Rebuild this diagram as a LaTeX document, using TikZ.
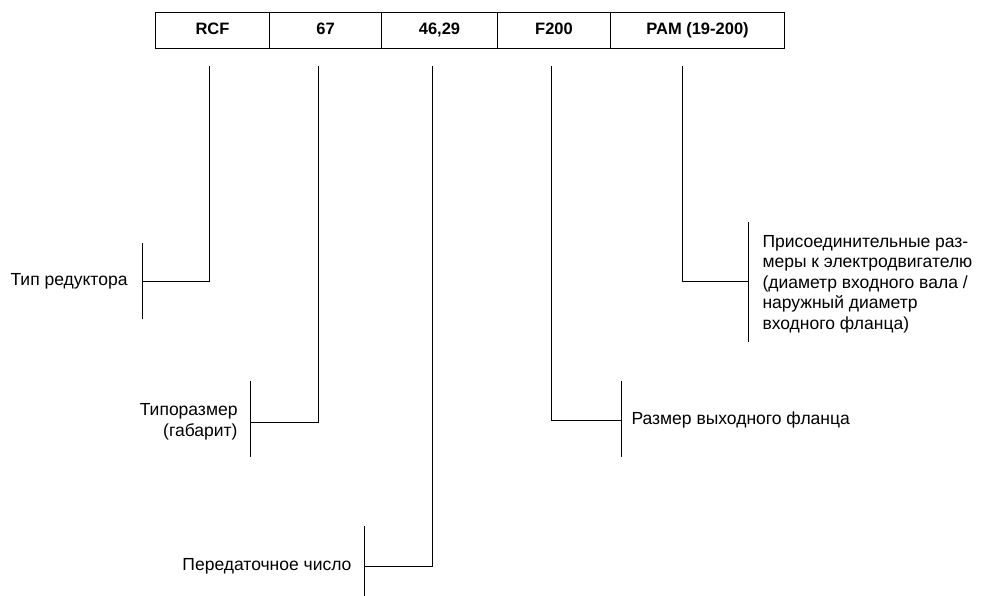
\documentclass[tikz,border=0pt]{standalone}
\usepackage{fontspec}
\setmainfont{Liberation Sans}
\begin{document}
\begin{tikzpicture}[x=1pt,y=-1pt,line width=1pt,
  cell/.style={draw,minimum height=36pt,inner sep=0pt,text height=12pt,text depth=3pt,font=\fontsize{16.5}{18}\selectfont\bfseries},
  lbl/.style={font=\fontsize{17.5}{20.5}\selectfont,inner sep=0pt},
  bar/.style={line width=1pt}]
\useasboundingbox (0,0) rectangle (982,596);
% top cells
\node[cell,minimum width=114pt,anchor=north west] (c1) at (155,12) {RCF};
\node[cell,minimum width=112pt,anchor=north west] (c2) at (269,12) {67};
\node[cell,minimum width=116pt,anchor=north west] (c3) at (381,12) {46,29};
\node[cell,minimum width=113pt,anchor=north west] (c4) at (497,12) {F200};
\node[cell,minimum width=174pt,anchor=north west] (c5) at (610,12) {PAM (19-200)};
% coordinates for lead starts
\coordinate (s1) at (209,66);
\coordinate (s2) at (318,66);
\coordinate (s3) at (432,66);
\coordinate (s4) at (551,66);
\coordinate (s5) at (682,66);
% bars
\coordinate (b1t) at (142,243); \coordinate (b1b) at (142,319); \coordinate (b1) at (142,281);
\coordinate (b2t) at (250,381); \coordinate (b2b) at (250,457); \coordinate (b2) at (250,422);
\coordinate (b3t) at (364,526); \coordinate (b3b) at (364,596); \coordinate (b3) at (364,566);
\coordinate (b4t) at (621,381); \coordinate (b4b) at (621,457); \coordinate (b4) at (621,420);
\coordinate (b5t) at (748,222); \coordinate (b5b) at (748,342); \coordinate (b5) at (748,281);
\draw[bar] (b1t) -- (b1b);
\draw[bar] (b2t) -- (b2b);
\draw[bar] (b3t) -- (b3b);
\draw[bar] (b4t) -- (b4b);
\draw[bar] (b5t) -- (b5b);
% leads
\draw (s1) |- (b1);
\draw (s2) |- (b2);
\draw (s3) |- (b3);
\draw (s4) |- (b4);
\draw (s5) |- (b5);
% labels
\node[lbl,anchor=east] (l1) at (128,281) {Тип редуктора};
\node[lbl,anchor=east,align=right] (l2) at (238,422) {Типоразмер\\(габарит)};
\node[lbl,anchor=east] (l3) at (352,566) {Передаточное число};
\node[lbl,anchor=west] (l4) at (631,420) {Размер выходного фланца};
\node[lbl,anchor=west,align=left] (l5) at (762,284) {Присоединительные раз-\\меры к электродвигателю\\(диаметр входного вала /\\наружный диаметр\\входного фланца)};
\end{tikzpicture}
\end{document}
